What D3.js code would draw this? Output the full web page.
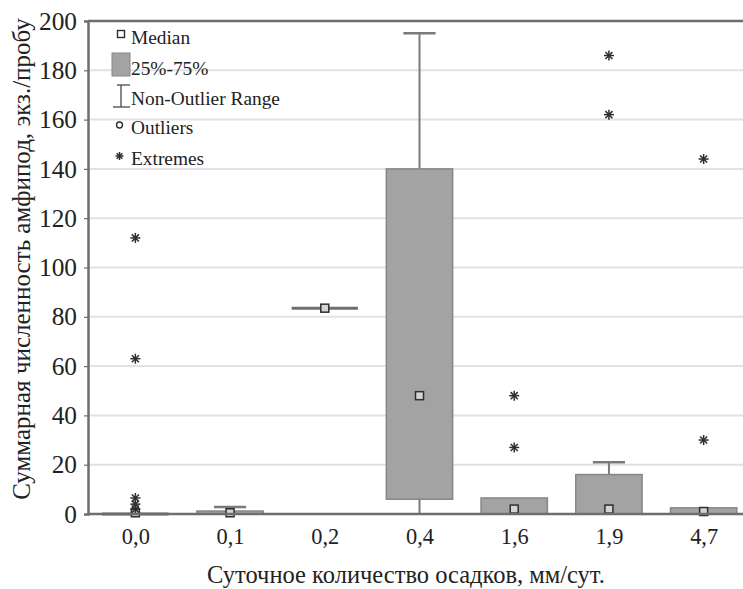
<!DOCTYPE html>
<html>
<head>
<meta charset="utf-8">
<script src="https://cdn.jsdelivr.net/npm/d3@7/dist/d3.min.js"></script>
<style>
  html, body { margin: 0; padding: 0; background: #fff; }
  svg { display: block; }
  svg text { fill: #222; }
</style>
</head>
<body>
<svg id="chart" width="743" height="589"></svg>
<script>
// Precipitation classes (mm/day) and box statistics per class
const categories  = ["0,0", "0,1", "0,2", "0,4", "1,6", "1,9", "4,7"];
const medians     = [0.5, 0.5, 83.5, 48, 2, 2, 1];
const q1          = [0, 0, 83.5, 6, 0, 0, 0];
const q3          = [0, 1.2, 83.5, 140, 6.5, 16, 2.5];
const whiskerLow  = [0, 0, 83.5, 0, 0, 0, 0];
const whiskerHigh = [0, 2.8, 83.5, 195, 6.5, 21, 2.5];
const extremes    = [[112, 63, 6.5, 4, 2], [], [], [], [48, 27], [186, 162], [144, 30]];
const yTicks      = [0, 20, 40, 60, 80, 100, 120, 140, 160, 180, 200];
const legendItems = ["Median", "25%-75%", "Non-Outlier Range", "Outliers", "Extremes"];

const FONT = '"Liberation Serif", Tinos, "Times New Roman", "DejaVu Serif", serif';

// Scale a text node's font size so that its rendered width equals `width`
function fitWidth(node, width) {
  const fs = parseFloat(node.getAttribute("font-size"));
  const w = node.getComputedTextLength();
  if (w > 0) node.setAttribute("font-size", (fs * width / w).toFixed(2));
}

const svg = d3.select("#chart").attr("font-family", FONT);
const plot = { left: 88, right: 751, top: 21, bottom: 514 };

const x = d3.scalePoint().domain(categories).range([plot.left, plot.right]).padding(0.5);
const y = d3.scaleLinear().domain([0, 200]).range([plot.bottom, plot.top]);
const step = x.step();
const boxW = step * 0.7;
const capW = step * 0.34;

const boxFill = "#a3a3a3", boxStroke = "#868686", whiskerColor = "#7a7a7a";
const axisColor = "#6e6e6e", gridColor = "#e2e2e2", markColor = "#2e2e2e";

// Horizontal gridlines
svg.append("g").selectAll("line").data(yTicks.filter(t => t > 0 && t < 200)).join("line")
  .attr("x1", plot.left).attr("x2", plot.right)
  .attr("y1", d => y(d)).attr("y2", d => y(d))
  .attr("stroke", gridColor).attr("stroke-width", 2);

const rows = categories.map((c, i) => ({
  c, med: medians[i], lo: q1[i], hi: q3[i], wl: whiskerLow[i], wh: whiskerHigh[i], ext: extremes[i]
}));

const g = svg.append("g");

// Whiskers (drawn under the boxes)
rows.forEach(r => {
  const cx = x(r.c);
  if (r.wh > r.hi) {
    g.append("line").attr("x1", cx).attr("x2", cx).attr("y1", y(r.hi)).attr("y2", y(r.wh))
      .attr("stroke", whiskerColor).attr("stroke-width", 2);
    g.append("line").attr("x1", cx - capW / 2).attr("x2", cx + capW / 2)
      .attr("y1", y(r.wh)).attr("y2", y(r.wh))
      .attr("stroke", whiskerColor).attr("stroke-width", 2.5);
  }
  if (r.wl < r.lo) {
    g.append("line").attr("x1", cx).attr("x2", cx).attr("y1", y(r.lo)).attr("y2", y(r.wl))
      .attr("stroke", whiskerColor).attr("stroke-width", 2);
  }
});

// Boxes (interquartile range); a collapsed box is drawn as a flat bar
rows.forEach(r => {
  const cx = x(r.c);
  if (r.hi > r.lo) {
    g.append("rect")
      .attr("x", cx - boxW / 2).attr("width", boxW)
      .attr("y", y(r.hi)).attr("height", y(r.lo) - y(r.hi))
      .attr("fill", boxFill).attr("stroke", boxStroke).attr("stroke-width", 1.5);
  } else {
    g.append("line")
      .attr("x1", cx - boxW / 2).attr("x2", cx + boxW / 2)
      .attr("y1", y(r.hi)).attr("y2", y(r.hi))
      .attr("stroke", "#6f6f6f").attr("stroke-width", 3);
  }
});

// Median squares
g.selectAll("rect.med").data(rows).join("rect").attr("class", "med")
  .attr("x", d => x(d.c) - 4).attr("y", d => y(d.med) - 4)
  .attr("width", 8).attr("height", 8)
  .attr("fill", "#d4d4d4").attr("stroke", markColor).attr("stroke-width", 1.5);

// Asterisk symbol for extreme values
function asterisk(sel, cx, cy, r) {
  const gg = sel.append("g").attr("transform", `translate(${cx},${cy})`);
  [0, 45, 90, 135].forEach(a => {
    const rad = a * Math.PI / 180;
    gg.append("line")
      .attr("x1", -r * Math.cos(rad)).attr("y1", -r * Math.sin(rad))
      .attr("x2", r * Math.cos(rad)).attr("y2", r * Math.sin(rad))
      .attr("stroke", markColor).attr("stroke-width", 1.5);
  });
}

rows.forEach(r => r.ext.forEach(v => asterisk(g, x(r.c), y(v), 5)));

// Axes
const yAxis = d3.axisLeft(y).tickValues(yTicks).tickSize(4).tickPadding(7).tickFormat(d3.format("d"));
const ya = svg.append("g").attr("transform", `translate(${plot.left},0)`).call(yAxis)
  .attr("font-family", FONT);
ya.select(".domain").attr("stroke", axisColor).attr("stroke-width", 2.5);
ya.selectAll(".tick line").attr("stroke", axisColor).attr("stroke-width", 1.2);
ya.selectAll(".tick text").attr("font-size", 21).attr("fill", "#222");
const ySize = (() => { const n = ya.select(".tick:last-of-type text").node(); fitWidth(n, 38); return n.getAttribute("font-size"); })();
ya.selectAll(".tick text").attr("font-size", ySize);

const xAxis = d3.axisBottom(x).tickSize(0).tickPadding(14);
const xa = svg.append("g").attr("transform", `translate(0,${plot.bottom})`).call(xAxis)
  .attr("font-family", FONT);
xa.select(".domain").attr("stroke", axisColor).attr("stroke-width", 2.5)
  .attr("d", `M${plot.left},0H${plot.right}`);
xa.selectAll(".tick text").attr("font-size", 21).attr("fill", "#222");
const xSize = (() => { const n = xa.select(".tick text").node(); fitWidth(n, 28); return n.getAttribute("font-size"); })();
xa.selectAll(".tick text").attr("font-size", xSize);

// Top frame line
svg.append("line").attr("x1", plot.left).attr("x2", plot.right)
  .attr("y1", plot.top).attr("y2", plot.top)
  .attr("stroke", axisColor).attr("stroke-width", 2.5);

// Axis titles
const xTitle = svg.append("text")
  .attr("x", 406).attr("y", 583)
  .attr("text-anchor", "middle").attr("font-size", 23)
  .text("Суточное количество осадков, мм/сут.");
fitWidth(xTitle.node(), 398);

const yTitle = svg.append("text")
  .attr("transform", `translate(30,259) rotate(-90)`)
  .attr("text-anchor", "middle").attr("font-size", 22)
  .text("Суммарная численность амфипод, экз./пробу");
fitWidth(yTitle.node(), 482);

// Legend
const lg = svg.append("g");
const lx = 121, tx = 131;
lg.append("rect").attr("x", lx - 3.5).attr("y", 30.5).attr("width", 7).attr("height", 7)
  .attr("fill", "#fff").attr("stroke", markColor).attr("stroke-width", 1.4);
lg.append("rect").attr("x", 112).attr("y", 53).attr("width", 18).attr("height", 23)
  .attr("fill", boxFill).attr("stroke", boxStroke).attr("stroke-width", 1);
lg.append("line").attr("x1", lx).attr("x2", lx).attr("y1", 85).attr("y2", 107)
  .attr("stroke", "#555").attr("stroke-width", 1.4);
lg.append("line").attr("x1", lx - 4).attr("x2", lx + 9).attr("y1", 85).attr("y2", 85)
  .attr("stroke", "#555").attr("stroke-width", 1.4);
lg.append("line").attr("x1", 113).attr("x2", 130).attr("y1", 107).attr("y2", 107)
  .attr("stroke", "#555").attr("stroke-width", 1.4);
lg.append("circle").attr("cx", 119.5).attr("cy", 125).attr("r", 3)
  .attr("fill", "#fff").attr("stroke", markColor).attr("stroke-width", 1.4);
asterisk(lg, 119.5, 156, 4);

const legendBaselines = [44, 75, 105, 134, 165];
const lt = lg.selectAll("text").data(legendItems).join("text")
  .attr("x", tx).attr("y", (d, i) => legendBaselines[i])
  .attr("font-size", 18)
  .text(d => d);
fitWidth(lt.nodes()[2], 149);
lt.attr("font-size", lt.nodes()[2].getAttribute("font-size"));
</script>
</body>
</html>
